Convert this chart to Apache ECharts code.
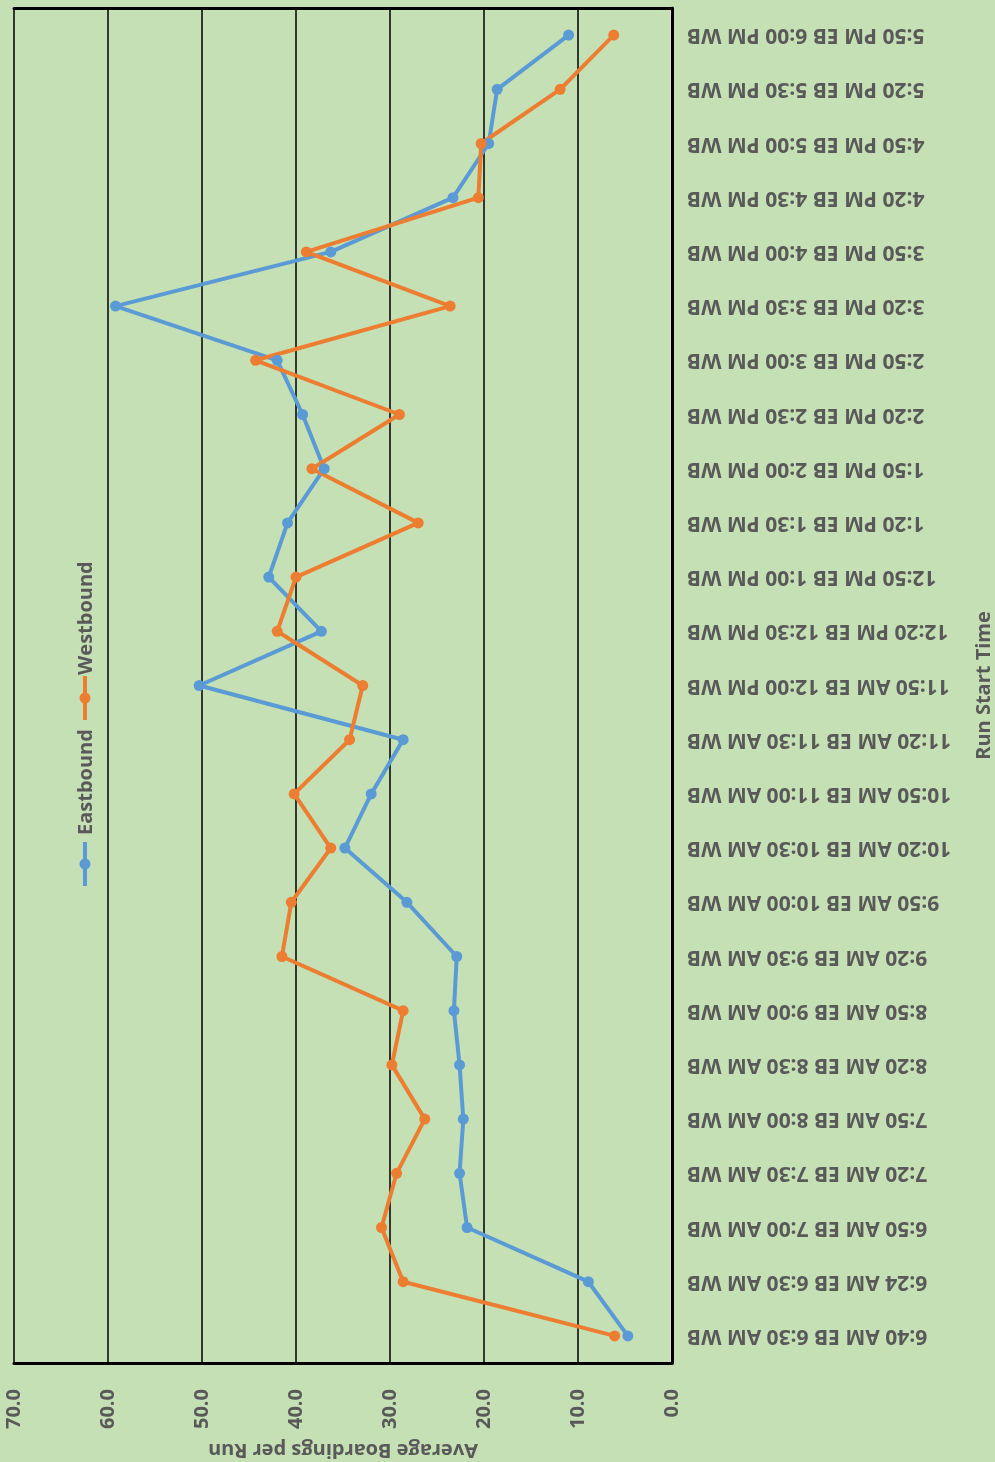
<!DOCTYPE html>
<html>
<head>
<meta charset="utf-8">
<script src="https://cdn.jsdelivr.net/npm/echarts@6/dist/echarts.min.js"></script>
<style>
  html, body { margin: 0; padding: 0; background: #C5E0B4; }
  #main { width: 995px; height: 1462px; }
</style>
</head>
<body>
<div id="main"></div>
<script>
// run start times (eastbound / westbound pair on each row)
const runTimes = [
  '6:40 AM EB 6:30 AM WB', '6:24 AM EB 6:30 AM WB', '6:50 AM EB 7:00 AM WB',
  '7:20 AM EB 7:30 AM WB', '7:50 AM EB 8:00 AM WB', '8:20 AM EB 8:30 AM WB',
  '8:50 AM EB 9:00 AM WB', '9:20 AM EB 9:30 AM WB', '9:50 AM EB 10:00 AM WB',
  '10:20 AM EB 10:30 AM WB', '10:50 AM EB 11:00 AM WB', '11:20 AM EB 11:30 AM WB',
  '11:50 AM EB 12:00 PM WB', '12:20 PM EB 12:30 PM WB', '12:50 PM EB 1:00 PM WB',
  '1:20 PM EB 1:30 PM WB', '1:50 PM EB 2:00 PM WB', '2:20 PM EB 2:30 PM WB',
  '2:50 PM EB 3:00 PM WB', '3:20 PM EB 3:30 PM WB', '3:50 PM EB 4:00 PM WB',
  '4:20 PM EB 4:30 PM WB', '4:50 PM EB 5:00 PM WB', '5:20 PM EB 5:30 PM WB',
  '5:50 PM EB 6:00 PM WB'
]
const eastbound = [4.7, 8.9, 21.8, 22.6, 22.2, 22.6, 23.2, 22.9, 28.2, 34.8, 32.0, 28.6, 50.3,
  37.3, 42.9, 40.9, 37.0, 39.3, 42.0, 59.2, 36.3, 23.3, 19.5, 18.6, 11.0]
const westbound = [6.1, 28.6, 30.9, 29.3, 26.3, 29.8, 28.6, 41.5, 40.5, 36.3, 40.2, 34.3, 32.9,
  42.0, 40.0, 27.0, 38.3, 29.0, 44.3, 23.6, 38.9, 20.6, 20.3, 11.9, 6.2]
const seriesNames = ['Eastbound', 'Westbound']
const colors = ['#5B9BD5', '#ED7D31']

const textColor = '#595959'
const font = 'Open Sans'

const chart = echarts.init(document.getElementById('main'))

// legend drawn by hand because the text runs bottom-to-top
const legendItems = [
  { y: 864, textY: 835 },
  { y: 698, textY: 675 }
]
const legendGraphic = []
legendItems.forEach((it, i) => {
  legendGraphic.push({
    type: 'line', shape: { x1: 85, y1: it.y - 22, x2: 85, y2: it.y + 22 },
    style: { stroke: colors[i], lineWidth: 4 }
  })
  legendGraphic.push({
    type: 'circle', shape: { cx: 85, cy: it.y, r: 5.5 },
    style: { fill: colors[i] }
  })
  legendGraphic.push({
    type: 'text', x: 86, y: it.textY, rotation: Math.PI / 2,
    style: {
      text: seriesNames[i], fill: textColor,
      font: 'bold 20px ' + font, align: 'left', verticalAlign: 'middle'
    }
  })
})

const boldText = { color: textColor, fontFamily: font, fontWeight: 'bold', fontSize: 20 }

const option = {
  backgroundColor: '#C5E0B4',
  animation: false,
  grid: {
    left: 14, right: 323, top: 8, bottom: 99,
    outerBoundsMode: 'none',
    show: true, borderWidth: 0, backgroundColor: '#C5E0B4'
  },
  xAxis: [
    {
      type: 'value',
      min: 0, max: 70, interval: 10,
      inverse: true,
      position: 'bottom',
      name: 'Average Boardings per Run',
      nameLocation: 'middle',
      nameGap: 77,
      nameRotate: 180,
      nameMoveOverlap: false,
      nameTextStyle: boldText,
      axisLine: { show: true, lineStyle: { color: '#000', width: 3 } },
      axisTick: { show: false },
      splitLine: { show: true, lineStyle: { color: '#000', width: 1.5 } },
      axisLabel: Object.assign({ rotate: 90, margin: 26, formatter: v => v.toFixed(1) }, boldText)
    },
    {
      // top frame edge
      type: 'value', min: 0, max: 70, interval: 10, inverse: true,
      position: 'top',
      axisLine: { show: true, lineStyle: { color: '#000', width: 3 } },
      axisTick: { show: false }, axisLabel: { show: false }, splitLine: { show: false }
    }
  ],
  yAxis: [
    {
      type: 'category',
      data: runTimes,
      position: 'right',
      offset: -1,
      boundaryGap: true,
      name: 'Run Start Time',
      nameLocation: 'middle',
      nameGap: 303,
      nameRotate: 90,
      nameMoveOverlap: false,
      nameTextStyle: boldText,
      axisLine: { show: true, lineStyle: { color: '#d9d9d9', width: 2 } },
      axisTick: { show: false },
      splitLine: { show: false },
      axisLabel: Object.assign({ rotate: 180, margin: 16, interval: 0 }, boldText, { fontSize: 21 })
    },
    {
      // left frame edge
      type: 'category', data: runTimes, position: 'left',
      axisLine: { show: true, lineStyle: { color: '#000', width: 3 } },
      axisTick: { show: false }, axisLabel: { show: false }, splitLine: { show: false }
    }
  ],
  series: [
    {
      name: seriesNames[0], type: 'line', data: eastbound,
      symbol: 'circle', symbolSize: 11,
      lineStyle: { color: colors[0], width: 4 },
      itemStyle: { color: colors[0] }
    },
    {
      name: seriesNames[1], type: 'line', data: westbound,
      symbol: 'circle', symbolSize: 11,
      lineStyle: { color: colors[1], width: 4 },
      itemStyle: { color: colors[1] }
    }
  ],
  graphic: legendGraphic
}
chart.setOption(option)
</script>
</body>
</html>
